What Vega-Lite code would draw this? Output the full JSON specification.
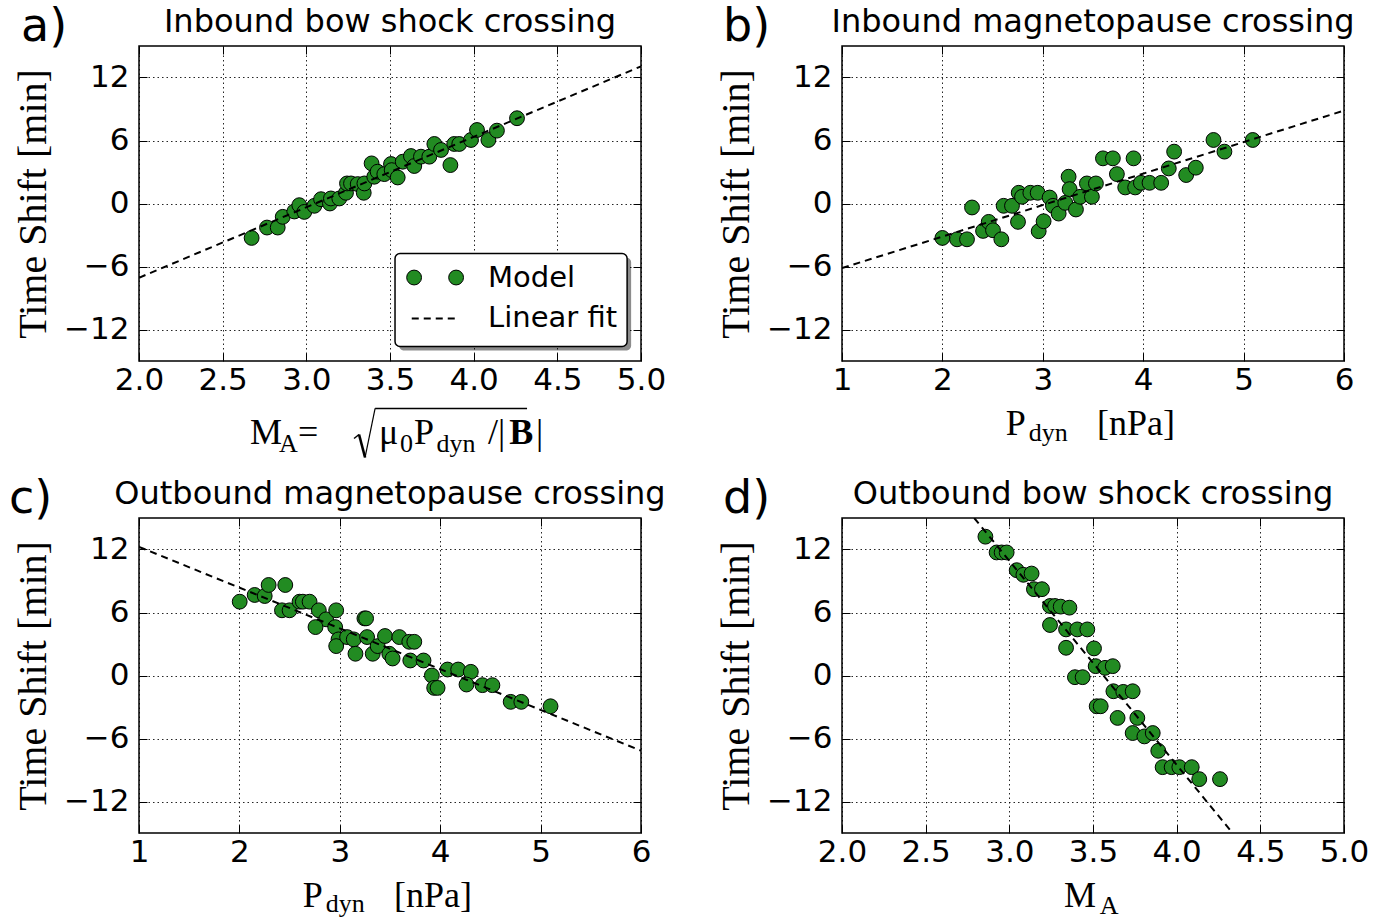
{
"$schema": "https://vega.github.io/schema/vega-lite/v6.json",
"background": "white",
"padding": {"left": 8, "top": 3, "right": 0, "bottom": 8},
"datasets": {
"a": [{"x":2.673,"y":-3.28},{"x":2.765,"y":-2.29},{"x":2.829,"y":-2.29},{"x":2.859,"y":-1.27},{"x":2.928,"y":-0.76},{"x":2.958,"y":-0.16},{"x":2.988,"y":-0.8},{"x":3.048,"y":-0.22},{"x":3.088,"y":0.41},{"x":3.141,"y":0},{"x":3.147,"y":0.48},{"x":3.197,"y":0.48},{"x":3.237,"y":1.02},{"x":3.243,"y":1.91},{"x":3.267,"y":1.91},{"x":3.307,"y":1.85},{"x":3.343,"y":1.02},{"x":3.347,"y":1.91},{"x":3.39,"y":3.82},{"x":3.406,"y":2.55},{"x":3.426,"y":3.03},{"x":3.466,"y":2.8},{"x":3.506,"y":3.76},{"x":3.51,"y":3.18},{"x":3.546,"y":2.48},{"x":3.576,"y":3.98},{"x":3.625,"y":4.52},{"x":3.645,"y":3.57},{"x":3.685,"y":4.46},{"x":3.735,"y":4.46},{"x":3.765,"y":5.67},{"x":3.805,"y":5.1},{"x":3.861,"y":3.66},{"x":3.884,"y":5.67},{"x":3.914,"y":5.67},{"x":3.984,"y":6.05},{"x":4.02,"y":7.0},{"x":4.088,"y":6.05},{"x":4.139,"y":6.94},{"x":4.259,"y":8.12}],
"a_fit": [{"x":2,"y":-7.07},{"x":5,"y":13.06}],
"b": [{"x":2.0,"y":-3.28},{"x":2.146,"y":-3.41},{"x":2.245,"y":-3.41},{"x":2.295,"y":-0.38},{"x":2.405,"y":-2.61},{"x":2.461,"y":-1.75},{"x":2.504,"y":-2.55},{"x":2.587,"y":-3.41},{"x":2.61,"y":-0.22},{"x":2.693,"y":-0.22},{"x":2.753,"y":-1.75},{"x":2.76,"y":1.02},{"x":2.793,"y":0.64},{"x":2.876,"y":1.02},{"x":2.949,"y":1.02},{"x":2.959,"y":-2.64},{"x":3.008,"y":-1.69},{"x":3.068,"y":0.57},{"x":3.101,"y":-0.22},{"x":3.158,"y":-0.96},{"x":3.224,"y":0.06},{"x":3.257,"y":2.55},{"x":3.267,"y":1.37},{"x":3.33,"y":-0.57},{"x":3.373,"y":0.64},{"x":3.439,"y":1.91},{"x":3.489,"y":0.64},{"x":3.529,"y":1.91},{"x":3.599,"y":4.3},{"x":3.698,"y":4.3},{"x":3.738,"y":2.8},{"x":3.821,"y":1.53},{"x":3.904,"y":4.3},{"x":3.92,"y":1.53},{"x":3.977,"y":1.97},{"x":4.063,"y":1.97},{"x":4.179,"y":1.97},{"x":4.255,"y":3.34},{"x":4.308,"y":4.94},{"x":4.428,"y":2.71},{"x":4.524,"y":3.41},{"x":4.7,"y":6.05},{"x":4.809,"y":4.94},{"x":5.091,"y":6.05}],
"b_fit": [{"x":1,"y":-6.15},{"x":6,"y":8.85}],
"c": [{"x":2.003,"y":7.03},{"x":2.152,"y":7.67},{"x":2.252,"y":7.57},{"x":2.291,"y":8.62},{"x":2.457,"y":8.62},{"x":2.424,"y":6.21},{"x":2.5,"y":6.21},{"x":2.599,"y":7.03},{"x":2.632,"y":7.03},{"x":2.699,"y":7.03},{"x":2.791,"y":6.21},{"x":2.864,"y":5.35},{"x":2.758,"y":4.61},{"x":2.964,"y":6.21},{"x":2.954,"y":4.61},{"x":2.987,"y":3.44},{"x":2.964,"y":2.8},{"x":3.073,"y":3.66},{"x":3.139,"y":3.44},{"x":3.156,"y":2.07},{"x":3.245,"y":5.44},{"x":3.262,"y":5.44},{"x":3.272,"y":3.66},{"x":3.328,"y":2.07},{"x":3.377,"y":2.8},{"x":3.45,"y":3.76},{"x":3.493,"y":2.07},{"x":3.526,"y":1.62},{"x":3.593,"y":3.66},{"x":3.692,"y":3.21},{"x":3.742,"y":3.21},{"x":3.702,"y":1.43},{"x":3.834,"y":1.43},{"x":3.917,"y":0},{"x":3.94,"y":-1.18},{"x":3.974,"y":-1.18},{"x":4.073,"y":0.57},{"x":4.179,"y":0.57},{"x":4.305,"y":0.35},{"x":4.262,"y":-0.86},{"x":4.421,"y":-0.92},{"x":4.52,"y":-0.92},{"x":4.702,"y":-2.51},{"x":4.808,"y":-2.51},{"x":5.099,"y":-2.93}],
"c_fit": [{"x":1,"y":12.25},{"x":6,"y":-7.16}],
"d": [{"x":2.857,"y":13.22},{"x":2.924,"y":11.72},{"x":2.954,"y":11.72},{"x":2.984,"y":11.72},{"x":3.044,"y":10.03},{"x":3.084,"y":9.59},{"x":3.133,"y":9.71},{"x":3.147,"y":8.22},{"x":3.195,"y":8.22},{"x":3.243,"y":6.62},{"x":3.273,"y":6.62},{"x":3.307,"y":6.56},{"x":3.359,"y":6.46},{"x":3.243,"y":4.81},{"x":3.339,"y":4.39},{"x":3.406,"y":4.39},{"x":3.466,"y":4.39},{"x":3.339,"y":2.64},{"x":3.506,"y":2.58},{"x":3.516,"y":0.89},{"x":3.572,"y":0.73},{"x":3.618,"y":0.89},{"x":3.392,"y":-0.16},{"x":3.438,"y":-0.16},{"x":3.622,"y":-1.5},{"x":3.681,"y":-1.56},{"x":3.737,"y":-1.5},{"x":3.522,"y":-2.93},{"x":3.546,"y":-2.93},{"x":3.647,"y":-4.04},{"x":3.765,"y":-4.04},{"x":3.737,"y":-5.48},{"x":3.807,"y":-5.8},{"x":3.857,"y":-5.48},{"x":3.89,"y":-7.17},{"x":3.916,"y":-8.73},{"x":3.97,"y":-8.73},{"x":4.016,"y":-8.73},{"x":4.09,"y":-8.73},{"x":4.135,"y":-9.87},{"x":4.259,"y":-9.87}],
"d_fit": [{"x":2.79,"y":15},{"x":4.334,"y":-15}]
},
"config": {
"view": {"stroke": "black", "strokeWidth": 1.5},
"axis": {"domain": false, "grid": true, "gridColor": "black", "gridDash": [1.5, 3], "gridWidth": 1, "gridOpacity": 0.85, "ticks": true, "tickColor": "black", "tickSize": -8, "tickWidth": 1, "labelFont": "DejaVu Sans", "labelFontSize": 31, "labelColor": "black", "labelFlush": false, "labelOverlap": false, "labelBound": false, "titleFont": "Liberation Serif", "titleFontSize": 40, "titleFontWeight": "normal", "titleColor": "black", "titlePadding": 10},
"axisX": {"labelPadding": 12},
"axisY": {"labelPadding": 18},
"title": {"font": "DejaVu Sans", "fontSize": 32, "fontWeight": "normal", "color": "black", "anchor": "middle", "offset": 6, "dy": 41},
"text": {"color": "black"}
},
"columns": 2,
"spacing": {"row": 157, "column": 201},
"bounds": "flush",
"concat": [
{"width": 502, "height": 315, "title": "Inbound bow shock crossing",
 "resolve": {"axis": {"x": "independent", "y": "independent"}},
 "layer": [
  {"data": {"name": "a"}, "mark": {"type": "point", "filled": true, "size": 220, "fill": "#228b22", "stroke": "black", "strokeWidth": 1, "opacity": 1},
   "encoding": {
    "x": {"field": "x", "type": "quantitative", "scale": {"domain": [2, 5], "nice": false, "zero": false}, "axis": {"values": [2, 2.5, 3, 3.5, 4, 4.5, 5], "format": ".1f", "title": null}},
    "y": {"field": "y", "type": "quantitative", "scale": {"domain": [-15, 15], "nice": false, "zero": false}, "axis": {"values": [-12, -6, 0, 6, 12], "title": "Time Shift [min]"}}}},
  {"data": {"name": "a_fit"}, "mark": {"type": "line", "color": "black", "strokeDash": [7, 5], "strokeWidth": 2, "clip": true},
   "encoding": {"x": {"field": "x", "type": "quantitative", "axis": null}, "y": {"field": "y", "type": "quantitative", "axis": null}}},
  {"data": {"values": [{}]}, "mark": {"type": "rect", "fill": "black", "opacity": 0.45, "cornerRadius": 5},
   "encoding": {"x": {"datum": 3.554, "type": "quantitative", "axis": null}, "x2": {"datum": 4.941}, "y": {"datum": -5.143, "type": "quantitative", "axis": null}, "y2": {"datum": -14.0}}},
  {"data": {"values": [{}]}, "mark": {"type": "rect", "fill": "white", "stroke": "black", "strokeWidth": 1.5, "cornerRadius": 5},
   "encoding": {"x": {"datum": 3.53, "type": "quantitative", "axis": null}, "x2": {"datum": 4.917}, "y": {"datum": -4.762, "type": "quantitative", "axis": null}, "y2": {"datum": -13.619}}},
  {"data": {"values": [{}]}, "mark": {"type": "point", "filled": true, "size": 220, "fill": "#228b22", "stroke": "black", "strokeWidth": 1, "opacity": 1},
   "encoding": {"x": {"datum": 3.644, "type": "quantitative", "axis": null}, "y": {"datum": -7.05, "type": "quantitative", "axis": null}}},
  {"data": {"values": [{}]}, "mark": {"type": "point", "filled": true, "size": 220, "fill": "#228b22", "stroke": "black", "strokeWidth": 1, "opacity": 1},
   "encoding": {"x": {"datum": 3.895, "type": "quantitative", "axis": null}, "y": {"datum": -7.05, "type": "quantitative", "axis": null}}},
  {"data": {"values": [{}]}, "mark": {"type": "rule", "color": "black", "strokeDash": [7, 5], "strokeWidth": 2},
   "encoding": {"x": {"datum": 3.63, "type": "quantitative", "axis": null}, "x2": {"datum": 3.905}, "y": {"datum": -10.95, "type": "quantitative", "axis": null}}},
  {"data": {"values": [{}]}, "mark": {"type": "text", "text": "Model", "font": "DejaVu Sans", "fontSize": 29, "align": "left", "baseline": "middle"},
   "encoding": {"x": {"datum": 4.086, "type": "quantitative", "axis": null}, "y": {"datum": -7.05, "type": "quantitative", "axis": null}}},
  {"data": {"values": [{}]}, "mark": {"type": "text", "text": "Linear fit", "font": "DejaVu Sans", "fontSize": 29, "align": "left", "baseline": "middle"},
   "encoding": {"x": {"datum": 4.086, "type": "quantitative", "axis": null}, "y": {"datum": -10.95, "type": "quantitative", "axis": null}}},
  {"data": {"values": [{}]}, "mark": {"type": "text", "text": "a)", "font": "DejaVu Sans", "fontSize": 46, "align": "left", "baseline": "alphabetic"},
   "encoding": {"x": {"datum": 1.295, "type": "quantitative", "axis": {"orient": "top", "labels": false, "grid": false, "title": null, "values": [2, 2.5, 3, 3.5, 4, 4.5, 5]}},
    "y": {"datum": 15.45, "type": "quantitative", "axis": {"orient": "right", "labels": false, "grid": false, "title": null, "values": [-12, -6, 0, 6, 12]}}}},
  {"data": {"values": [{}]}, "mark": {"type": "text", "text": "M", "font": "Liberation Serif", "fontSize": 36, "align": "left", "baseline": "alphabetic"}, "encoding": {"x": {"datum": 2.663, "type": "quantitative", "axis": null}, "y": {"datum": -22.86, "type": "quantitative", "axis": null}}},
  {"data": {"values": [{}]}, "mark": {"type": "text", "text": "A", "font": "Liberation Serif", "fontSize": 26, "align": "left", "baseline": "alphabetic"}, "encoding": {"x": {"datum": 2.837, "type": "quantitative", "axis": null}, "y": {"datum": -23.62, "type": "quantitative", "axis": null}}},
  {"data": {"values": [{}]}, "mark": {"type": "text", "text": "=", "font": "Liberation Serif", "fontSize": 36, "align": "left", "baseline": "alphabetic"}, "encoding": {"x": {"datum": 2.95, "type": "quantitative", "axis": null}, "y": {"datum": -22.86, "type": "quantitative", "axis": null}}},
  {"data": {"values": [{}]}, "mark": {"type": "rule", "strokeWidth": 1.5, "color": "black"}, "encoding": {"x": {"datum": 3.285, "type": "quantitative", "axis": null}, "x2": {"datum": 3.315}, "y": {"datum": -22.38, "type": "quantitative", "axis": null}, "y2": {"datum": -22.0}}},
  {"data": {"values": [{}]}, "mark": {"type": "rule", "strokeWidth": 2.6, "color": "black"}, "encoding": {"x": {"datum": 3.315, "type": "quantitative", "axis": null}, "x2": {"datum": 3.351}, "y": {"datum": -22.0, "type": "quantitative", "axis": null}, "y2": {"datum": -24.19}}},
  {"data": {"values": [{}]}, "mark": {"type": "rule", "strokeWidth": 1.2, "color": "black"}, "encoding": {"x": {"datum": 3.351, "type": "quantitative", "axis": null}, "x2": {"datum": 3.411}, "y": {"datum": -24.19, "type": "quantitative", "axis": null}, "y2": {"datum": -19.52}}},
  {"data": {"values": [{}]}, "mark": {"type": "rule", "strokeWidth": 1.5, "color": "black"}, "encoding": {"x": {"datum": 3.411, "type": "quantitative", "axis": null}, "x2": {"datum": 4.319}, "y": {"datum": -19.52, "type": "quantitative", "axis": null}}},
  {"data": {"values": [{}]}, "mark": {"type": "text", "text": "μ", "font": "Liberation Serif", "fontSize": 36, "align": "left", "baseline": "alphabetic"}, "encoding": {"x": {"datum": 3.435, "type": "quantitative", "axis": null}, "y": {"datum": -22.86, "type": "quantitative", "axis": null}}},
  {"data": {"values": [{}]}, "mark": {"type": "text", "text": "0", "font": "Liberation Serif", "fontSize": 26, "align": "left", "baseline": "alphabetic"}, "encoding": {"x": {"datum": 3.56, "type": "quantitative", "axis": null}, "y": {"datum": -23.62, "type": "quantitative", "axis": null}}},
  {"data": {"values": [{}]}, "mark": {"type": "text", "text": "P", "font": "Liberation Serif", "fontSize": 36, "align": "left", "baseline": "alphabetic"}, "encoding": {"x": {"datum": 3.644, "type": "quantitative", "axis": null}, "y": {"datum": -22.86, "type": "quantitative", "axis": null}}},
  {"data": {"values": [{}]}, "mark": {"type": "text", "text": "dyn", "font": "Liberation Serif", "fontSize": 26, "align": "left", "baseline": "alphabetic"}, "encoding": {"x": {"datum": 3.778, "type": "quantitative", "axis": null}, "y": {"datum": -23.62, "type": "quantitative", "axis": null}}},
  {"data": {"values": [{}]}, "mark": {"type": "text", "text": "/|", "font": "Liberation Serif", "fontSize": 36, "align": "left", "baseline": "alphabetic"}, "encoding": {"x": {"datum": 4.086, "type": "quantitative", "axis": null}, "y": {"datum": -22.86, "type": "quantitative", "axis": null}}},
  {"data": {"values": [{}]}, "mark": {"type": "text", "text": "B", "font": "Liberation Serif", "fontSize": 36, "fontWeight": "bold", "align": "left", "baseline": "alphabetic"}, "encoding": {"x": {"datum": 4.212, "type": "quantitative", "axis": null}, "y": {"datum": -22.86, "type": "quantitative", "axis": null}}},
  {"data": {"values": [{}]}, "mark": {"type": "text", "text": "|", "font": "Liberation Serif", "fontSize": 36, "align": "left", "baseline": "alphabetic"}, "encoding": {"x": {"datum": 4.373, "type": "quantitative", "axis": null}, "y": {"datum": -22.86, "type": "quantitative", "axis": null}}}
 ]},
{"width": 502, "height": 315, "title": "Inbound magnetopause crossing",
 "resolve": {"axis": {"x": "independent", "y": "independent"}},
 "layer": [
  {"data": {"name": "b"}, "mark": {"type": "point", "filled": true, "size": 220, "fill": "#228b22", "stroke": "black", "strokeWidth": 1, "opacity": 1},
   "encoding": {
    "x": {"field": "x", "type": "quantitative", "scale": {"domain": [1, 6], "nice": false, "zero": false}, "axis": {"values": [1, 2, 3, 4, 5, 6], "format": "d", "title": null}},
    "y": {"field": "y", "type": "quantitative", "scale": {"domain": [-15, 15], "nice": false, "zero": false}, "axis": {"values": [-12, -6, 0, 6, 12], "title": "Time Shift [min]"}}}},
  {"data": {"name": "b_fit"}, "mark": {"type": "line", "color": "black", "strokeDash": [7, 5], "strokeWidth": 2, "clip": true},
   "encoding": {"x": {"field": "x", "type": "quantitative", "axis": null}, "y": {"field": "y", "type": "quantitative", "axis": null}}},
  {"data": {"values": [{}]}, "mark": {"type": "text", "text": "b)", "font": "DejaVu Sans", "fontSize": 46, "align": "left", "baseline": "alphabetic"},
   "encoding": {"x": {"datum": -0.185, "type": "quantitative", "axis": {"orient": "top", "labels": false, "grid": false, "title": null, "values": [1, 2, 3, 4, 5, 6]}},
    "y": {"datum": 15.45, "type": "quantitative", "axis": {"orient": "right", "labels": false, "grid": false, "title": null, "values": [-12, -6, 0, 6, 12]}}}},
  {"data": {"values": [{}]}, "mark": {"type": "text", "text": "P", "font": "Liberation Serif", "fontSize": 36, "align": "left", "baseline": "alphabetic"}, "encoding": {"x": {"datum": 2.632, "type": "quantitative", "axis": null}, "y": {"datum": -22.0, "type": "quantitative", "axis": null}}},
  {"data": {"values": [{}]}, "mark": {"type": "text", "text": "dyn", "font": "Liberation Serif", "fontSize": 26, "align": "left", "baseline": "alphabetic"}, "encoding": {"x": {"datum": 2.86, "type": "quantitative", "axis": null}, "y": {"datum": -22.6, "type": "quantitative", "axis": null}}},
  {"data": {"values": [{}]}, "mark": {"type": "text", "text": "[nPa]", "font": "Liberation Serif", "fontSize": 36, "align": "left", "baseline": "alphabetic"}, "encoding": {"x": {"datum": 3.54, "type": "quantitative", "axis": null}, "y": {"datum": -22.0, "type": "quantitative", "axis": null}}}
 ]},
{"width": 502, "height": 315, "title": "Outbound magnetopause crossing",
 "resolve": {"axis": {"x": "independent", "y": "independent"}},
 "layer": [
  {"data": {"name": "c"}, "mark": {"type": "point", "filled": true, "size": 220, "fill": "#228b22", "stroke": "black", "strokeWidth": 1, "opacity": 1},
   "encoding": {
    "x": {"field": "x", "type": "quantitative", "scale": {"domain": [1, 6], "nice": false, "zero": false}, "axis": {"values": [1, 2, 3, 4, 5, 6], "format": "d", "title": null}},
    "y": {"field": "y", "type": "quantitative", "scale": {"domain": [-15, 15], "nice": false, "zero": false}, "axis": {"values": [-12, -6, 0, 6, 12], "title": "Time Shift [min]"}}}},
  {"data": {"name": "c_fit"}, "mark": {"type": "line", "color": "black", "strokeDash": [7, 5], "strokeWidth": 2, "clip": true},
   "encoding": {"x": {"field": "x", "type": "quantitative", "axis": null}, "y": {"field": "y", "type": "quantitative", "axis": null}}},
  {"data": {"values": [{}]}, "mark": {"type": "text", "text": "c)", "font": "DejaVu Sans", "fontSize": 46, "align": "left", "baseline": "alphabetic"},
   "encoding": {"x": {"datum": -0.295, "type": "quantitative", "axis": {"orient": "top", "labels": false, "grid": false, "title": null, "values": [1, 2, 3, 4, 5, 6]}},
    "y": {"datum": 15.43, "type": "quantitative", "axis": {"orient": "right", "labels": false, "grid": false, "title": null, "values": [-12, -6, 0, 6, 12]}}}},
  {"data": {"values": [{}]}, "mark": {"type": "text", "text": "P", "font": "Liberation Serif", "fontSize": 36, "align": "left", "baseline": "alphabetic"}, "encoding": {"x": {"datum": 2.632, "type": "quantitative", "axis": null}, "y": {"datum": -22.03, "type": "quantitative", "axis": null}}},
  {"data": {"values": [{}]}, "mark": {"type": "text", "text": "dyn", "font": "Liberation Serif", "fontSize": 26, "align": "left", "baseline": "alphabetic"}, "encoding": {"x": {"datum": 2.86, "type": "quantitative", "axis": null}, "y": {"datum": -22.55, "type": "quantitative", "axis": null}}},
  {"data": {"values": [{}]}, "mark": {"type": "text", "text": "[nPa]", "font": "Liberation Serif", "fontSize": 36, "align": "left", "baseline": "alphabetic"}, "encoding": {"x": {"datum": 3.54, "type": "quantitative", "axis": null}, "y": {"datum": -22.03, "type": "quantitative", "axis": null}}}
 ]},
{"width": 502, "height": 315, "title": "Outbound bow shock crossing",
 "resolve": {"axis": {"x": "independent", "y": "independent"}},
 "layer": [
  {"data": {"name": "d"}, "mark": {"type": "point", "filled": true, "size": 220, "fill": "#228b22", "stroke": "black", "strokeWidth": 1, "opacity": 1},
   "encoding": {
    "x": {"field": "x", "type": "quantitative", "scale": {"domain": [2, 5], "nice": false, "zero": false}, "axis": {"values": [2, 2.5, 3, 3.5, 4, 4.5, 5], "format": ".1f", "title": null}},
    "y": {"field": "y", "type": "quantitative", "scale": {"domain": [-15, 15], "nice": false, "zero": false}, "axis": {"values": [-12, -6, 0, 6, 12], "title": "Time Shift [min]"}}}},
  {"data": {"name": "d_fit"}, "mark": {"type": "line", "color": "black", "strokeDash": [7, 5], "strokeWidth": 2, "clip": true},
   "encoding": {"x": {"field": "x", "type": "quantitative", "axis": null}, "y": {"field": "y", "type": "quantitative", "axis": null}}},
  {"data": {"values": [{}]}, "mark": {"type": "text", "text": "d)", "font": "DejaVu Sans", "fontSize": 46, "align": "left", "baseline": "alphabetic"},
   "encoding": {"x": {"datum": 1.289, "type": "quantitative", "axis": {"orient": "top", "labels": false, "grid": false, "title": null, "values": [2, 2.5, 3, 3.5, 4, 4.5, 5]}},
    "y": {"datum": 15.43, "type": "quantitative", "axis": {"orient": "right", "labels": false, "grid": false, "title": null, "values": [-12, -6, 0, 6, 12]}}}},
  {"data": {"values": [{}]}, "mark": {"type": "text", "text": "M", "font": "Liberation Serif", "fontSize": 36, "align": "left", "baseline": "alphabetic"}, "encoding": {"x": {"datum": 3.327, "type": "quantitative", "axis": null}, "y": {"datum": -22.03, "type": "quantitative", "axis": null}}},
  {"data": {"values": [{}]}, "mark": {"type": "text", "text": "A", "font": "Liberation Serif", "fontSize": 26, "align": "left", "baseline": "alphabetic"}, "encoding": {"x": {"datum": 3.54, "type": "quantitative", "axis": null}, "y": {"datum": -22.72, "type": "quantitative", "axis": null}}}
 ]}
]
}
